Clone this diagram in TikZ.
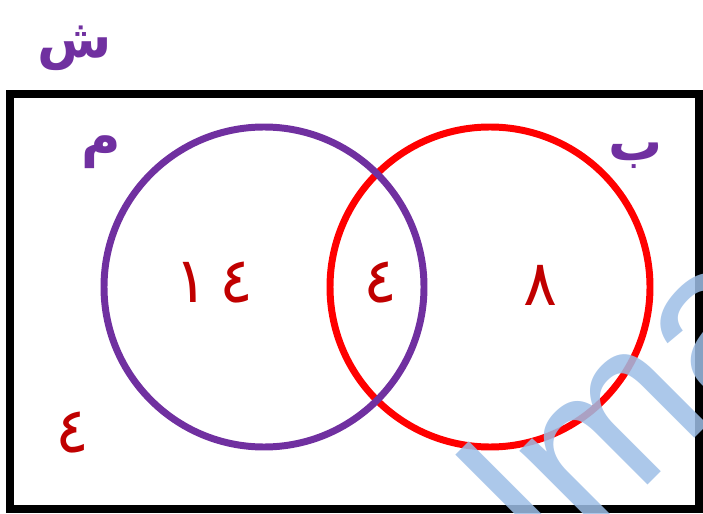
\documentclass[tikz,border=0pt]{standalone}
\usepackage{fontspec}
\usepackage{xcolor}
\usepackage{tikz}
\TeXXeTstate=1
\newfontfamily\arabicfont[Script=Arabic]{DejaVu Sans}
\setsansfont{Liberation Sans}
\definecolor{mor}{HTML}{7030A0}
\definecolor{kirmizi}{HTML}{FF0000}
\definecolor{koyuKirmizi}{HTML}{C00000}
\definecolor{filigran}{HTML}{9DBEE6}
\tikzset{
  kume/.style={line width=7pt*0.85},
  etiket/.style={mor,font=\arabicfont\bfseries\fontsize{46}{52}\selectfont},
  sayi/.style={koyuKirmizi,font=\arabicfont\fontsize{54}{60}\selectfont}
}

\begin{document}
\begin{tikzpicture}[x=0.03cm,y=-0.03cm]
\useasboundingbox (0,0) rectangle (703,514);
\clip (0,0) rectangle (703,514);
% evrensel kume
\draw[line width=8pt*0.85] (10,94) rectangle (699,509);
\node[etiket] (sh) at (75,48) {\beginR ش\endR};
% kumeler
\draw[kirmizi,kume] (490,287) circle (160);
\draw[mor,kume] (264,287) circle (160);
\node[etiket] (m) at (101,152) {\beginR م\endR};
\node[etiket] (b) at (636,156) {\beginR ب\endR};
% elemanlar
\node[sayi] (n14) at (214,283) {١\,٤};
\node[sayi] (n4) at (380,283) {٤};
\node[sayi] (n8) at (540,285) {٨};
\node[sayi] (nDis) at (72,433) {٤};
% filigran
\node[filigran,opacity=0.85,rotate=45,anchor=south west,font=\sffamily\fontsize{185}{195}\selectfont,inner sep=0pt] (fil) at (558,578) {lma};
\end{tikzpicture}
\end{document}
